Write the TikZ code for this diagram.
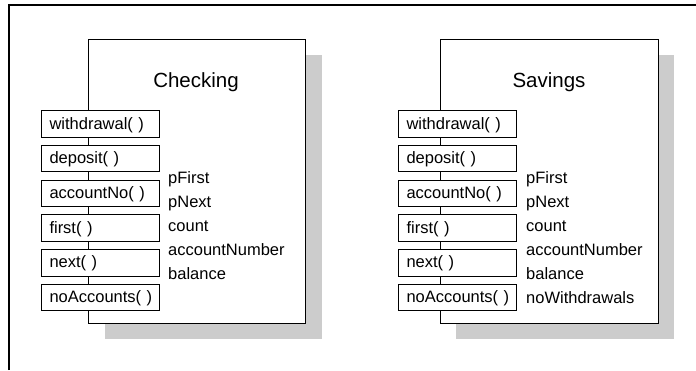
\documentclass[tikz,border=0pt]{standalone}
\usepackage{fontspec}
\setmainfont{Liberation Sans}
\usetikzlibrary{positioning}
\tikzset{shadowbox/.style={fill=gray!40,minimum height=284pt,inner sep=0pt}}
\tikzset{classbox/.style={draw,fill=white,line width=1pt,minimum height=284pt,inner sep=0pt}}
\tikzset{method/.style={draw,fill=white,line width=1pt,anchor=west,
                        minimum width=118pt,minimum height=26.5pt,
                        inner xsep=8pt,text width=102pt,align=left,
                        text height=12pt,text depth=2pt,
                        font=\fontsize{16.5}{19}\selectfont}}
\tikzset{member/.style={anchor=base west,inner sep=0pt,
                        font=\fontsize{16.5}{19}\selectfont}}
\tikzset{classname/.style={anchor=base,inner sep=0pt,
                           font=\fontsize{20.5}{24}\selectfont}}

\begin{document}
\begin{tikzpicture}[x=1pt,y=-1pt]
    \useasboundingbox (0,0) rectangle (696,370);
    \draw[line width=1.2pt] (9,370) -- (9,5) -- (696,5);

    % Checking
    \node[shadowbox,minimum width=217pt] (cshadow) at (213,197) {};
    \node[classbox,minimum width=217pt] (checking) at (196.5,181) {};
    \node[classname] (cname) at (196,87) {Checking};
    \foreach \m [count=\mi] in {withdrawal(~),deposit(~),accountNo(~),first(~),next(~),noAccounts(~)}{%
          \node[method] (cm\mi) at (41,124+\mi*34.7-34.7) {\m};
        }
    \foreach \a [count=\ai] in {pFirst,pNext,count,accountNumber,balance}{%
          \node[member] (ca\ai) at (168,183+\ai*24-24) {\a};
        }

    % Savings
    \node[shadowbox,minimum width=218pt] (sshadow) at (565,197) {};
    \node[classbox,minimum width=218pt] (savings) at (549,181) {};
    \node[classname] (sname) at (549,87) {Savings};
    \foreach \m [count=\mi] in {withdrawal(~),deposit(~),accountNo(~),first(~),next(~),noAccounts(~)}{%
          \node[method] (sm\mi) at (398,124+\mi*34.7-34.7) {\m};
        }
    \foreach \a [count=\ai] in {pFirst,pNext,count,accountNumber,balance,noWithdrawals}{%
          \node[member] (sa\ai) at (526,183+\ai*24-24) {\a};
        }
\end{tikzpicture}
\end{document}
